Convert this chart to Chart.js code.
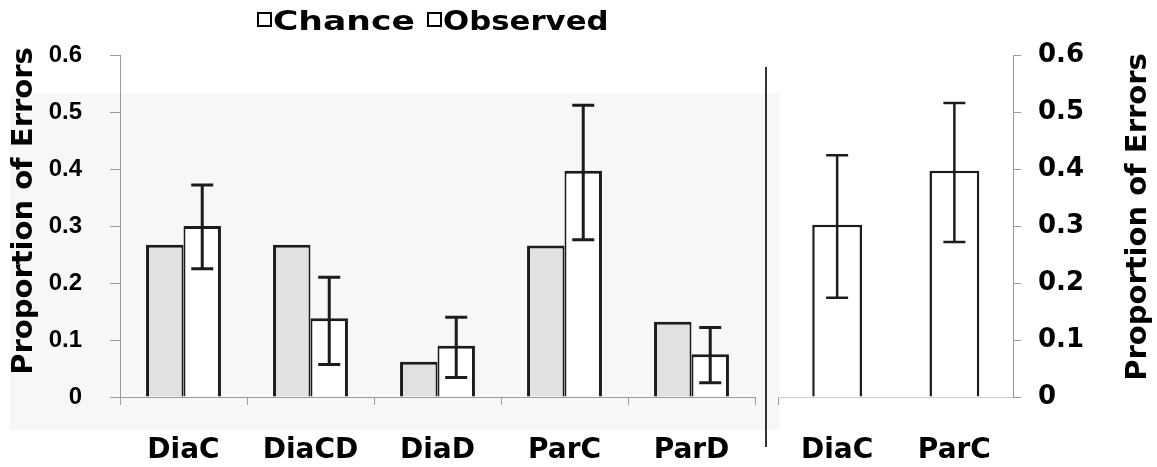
<!DOCTYPE html>
<html>
<head>
<meta charset="utf-8">
<script src="https://cdn.jsdelivr.net/npm/chart.js@4.4.1/dist/chart.umd.min.js"></script>
<style>
  body { margin: 0; background: #fff; width: 1157px; height: 467px; position: relative; overflow: hidden; }
  #wash { position: absolute; left: 10px; top: 93px; width: 770px; height: 337px; background: #f7f7f7; }
  #left { position: absolute; left: 0; top: 0; }
  #right { position: absolute; left: 770px; top: 0; }
  #divider { position: absolute; left: 765px; top: 67px; width: 2px; height: 380px; background: #333; }
  .key { position: absolute; top: 12px; width: 11px; height: 11px; border: 2px solid #000; background: #fff; }
  .txt { position: absolute; top: 5px; font: bold 27px "DejaVu Sans"; line-height: 32px; color: #000;
         transform-origin: left center; white-space: nowrap; }
</style>
</head>
<body>
<div id="wash"></div>
<canvas id="left" width="770" height="467"></canvas>
<canvas id="right" width="387" height="467"></canvas>
<div id="divider"></div>
<div id="legend"></div>
<script>
const categories = ['DiaC', 'DiaCD', 'DiaD', 'ParC', 'ParD'];
const chance = [0.267, 0.267, 0.062, 0.266, 0.132];
const observed = [0.300, 0.138, 0.090, 0.397, 0.075];
const observedHigh = [0.372, 0.210, 0.140, 0.512, 0.122];
const observedLow = [0.225, 0.057, 0.034, 0.276, 0.025];

const sideCategories = ['DiaC', 'ParC'];
const sideObserved = [0.302, 0.397];
const sideHigh = [0.424, 0.516];
const sideLow = [0.174, 0.272];

const seriesNames = ['Chance', 'Observed'];
const yMin = 0, yMax = 0.6, yStep = 0.1;
const axisTitle = 'Proportion of Errors';

// legend drawn as html: key x, text x, horizontal stretch
const legendSpots = [[257, 273, 1.28], [427, 443, 1.14]];
const legend = document.getElementById('legend');
seriesNames.forEach((name, i) => {
  const key = document.createElement('span');
  key.className = 'key';
  key.style.left = legendSpots[i][0] + 'px';
  const txt = document.createElement('span');
  txt.className = 'txt';
  txt.style.left = legendSpots[i][1] + 'px';
  txt.style.transform = 'scaleX(' + legendSpots[i][2] + ')';
  txt.textContent = name;
  legend.appendChild(key);
  legend.appendChild(txt);
});

// error bars for any dataset that carries errHigh / errLow
const errorBars = {
  id: 'errorBars',
  afterDatasetsDraw(chart, args, opts) {
    const ctx = chart.ctx;
    const y = chart.scales.y;
    chart.data.datasets.forEach((ds, i) => {
      if (!ds.errHigh) return;
      chart.getDatasetMeta(i).data.forEach((bar, j) => {
        const top = y.getPixelForValue(ds.errHigh[j]);
        const bot = y.getPixelForValue(ds.errLow[j]);
        ctx.save();
        ctx.strokeStyle = opts.color;
        ctx.lineWidth = opts.width;
        ctx.beginPath();
        ctx.moveTo(bar.x, top);
        ctx.lineTo(bar.x, bot);
        ctx.moveTo(bar.x - opts.cap / 2, top);
        ctx.lineTo(bar.x + opts.cap / 2, top);
        ctx.moveTo(bar.x - opts.cap / 2, bot);
        ctx.lineTo(bar.x + opts.cap / 2, bot);
        ctx.stroke();
        ctx.restore();
      });
    });
  }
};

// vertical axis title reading bottom to top, on either side
const sideTitle = {
  id: 'sideTitle',
  afterDraw(chart, args, opts) {
    const ctx = chart.ctx;
    ctx.save();
    ctx.translate(opts.x, opts.y);
    ctx.rotate(-Math.PI / 2);
    ctx.font = 'bold 29px "DejaVu Sans"';
    ctx.fillStyle = '#000';
    ctx.textAlign = 'center';
    ctx.textBaseline = 'alphabetic';
    ctx.fillText(opts.text, 0, 0);
    ctx.restore();
  }
};

const labelFont = { family: 'DejaVu Sans', weight: 'bold', size: 28 };
const axisGrey = '#9a9a9a';
const ink = '#1c1c1c';

new Chart(document.getElementById('left'), {
  type: 'bar',
  data: {
    labels: categories,
    datasets: [
      { label: seriesNames[0], data: chance, backgroundColor: '#e1e1e1', borderColor: ink,
        borderWidth: { top: 3, left: 3, right: 2, bottom: 0 },
        categoryPercentage: 0.59, barPercentage: 1 },
      { label: seriesNames[1], data: observed, errHigh: observedHigh, errLow: observedLow,
        backgroundColor: '#fff', borderColor: ink,
        borderWidth: { top: 3, left: 2, right: 3, bottom: 0 },
        categoryPercentage: 0.59, barPercentage: 1 }
    ]
  },
  options: {
    responsive: false,
    animation: false,
    layout: { padding: { left: 0, right: 15, top: 55, bottom: 0 } },
    plugins: {
      legend: { display: false },
      tooltip: { enabled: false },
      errorBars: { color: ink, width: 3, cap: 22 },
      sideTitle: { text: axisTitle, x: 32, y: 211 }
    },
    scales: {
      x: {
        grid: { offset: true, drawOnChartArea: false, tickLength: 8, color: axisGrey },
        border: { color: axisGrey },
        ticks: { font: labelFont, color: '#000', padding: 29 },
        afterFit(s) { s.height = 70; }
      },
      y: {
        min: yMin, max: yMax,
        ticks: { stepSize: yStep, font: { family: 'Liberation Sans', weight: 'bold', size: 24 }, color: '#000', padding: 28 },
        grid: { drawOnChartArea: false, tickLength: 10, color: axisGrey },
        border: { color: axisGrey },
        afterFit(s) { s.width = 120; }
      }
    }
  },
  plugins: [errorBars, sideTitle]
});

new Chart(document.getElementById('right'), {
  type: 'bar',
  data: {
    labels: sideCategories,
    datasets: [
      { label: seriesNames[1], data: sideObserved, errHigh: sideHigh, errLow: sideLow,
        backgroundColor: '#fff', borderColor: ink, borderWidth: 2.5,
        categoryPercentage: 0.85, barPercentage: 0.5 }
    ]
  },
  options: {
    responsive: false,
    animation: false,
    layout: { padding: { left: 8, right: 0, top: 55, bottom: 0 } },
    plugins: {
      legend: { display: false },
      tooltip: { enabled: false },
      errorBars: { color: ink, width: 2.5, cap: 22 },
      sideTitle: { text: axisTitle, x: 376, y: 217 }
    },
    scales: {
      x: {
        grid: { offset: true, drawOnChartArea: false, tickLength: 8,
                color: c => c.index === 0 ? axisGrey : 'rgba(0,0,0,0)' },
        border: { color: '#d0d0d0' },
        ticks: { font: labelFont, color: '#000', padding: 29 },
        afterFit(s) { s.height = 70; }
      },
      y: {
        position: 'right',
        min: yMin, max: yMax,
        ticks: { stepSize: yStep, font: { family: 'DejaVu Sans', weight: 'bold', size: 26 }, color: '#000', padding: 17 },
        grid: { drawOnChartArea: false, tickLength: 8, color: axisGrey },
        border: { color: axisGrey },
        afterFit(s) { s.width = 144; }
      }
    }
  },
  plugins: [errorBars, sideTitle]
});
</script>
</body>
</html>
